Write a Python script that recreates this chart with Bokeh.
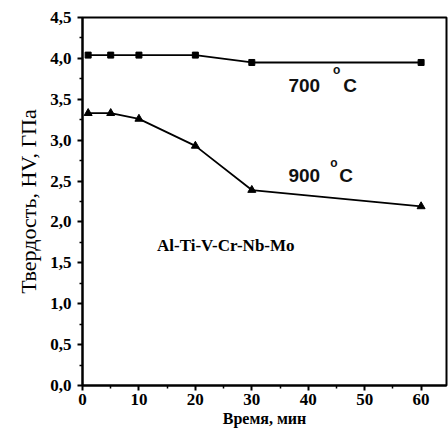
from bokeh.plotting import figure
from bokeh.models import Range1d, FixedTicker, Label, Title
from bokeh.embed import file_html
from bokeh.resources import INLINE

# data
time_min = [1, 5, 10, 20, 30, 60]
hv_700 = [4.04, 4.04, 4.04, 4.04, 3.95, 3.95]
hv_900 = [3.33, 3.33, 3.26, 2.93, 2.39, 2.19]
x_ticks = [0, 10, 20, 30, 40, 50, 60]
y_ticks = [0.0, 0.5, 1.0, 1.5, 2.0, 2.5, 3.0, 3.5, 4.0, 4.5]
y_tick_labels = ["0,0", "0,5", "1,0", "1,5", "2,0", "2,5", "3,0", "3,5", "4,0", "4,5"]
x_title = "Время, мин"
y_title = "Твердость, HV, ГПа"
alloy = "Al-Ti-V-Cr-Nb-Mo"

SERIF = "Liberation Serif"
SANS = "Liberation Sans"

p = figure(width=448, height=434, output_backend="svg", toolbar_location=None,
           x_range=Range1d(0, 64.5), y_range=Range1d(0, 4.5),
           min_border_left=82, min_border_right=2, min_border_top=17, min_border_bottom=49)
p.grid.visible = False
p.outline_line_color = "black"
p.outline_line_width = 2
p.background_fill_color = "white"
p.border_fill_color = "white"

for ax in (p.xaxis[0], p.yaxis[0]):
    ax.axis_line_width = 2
    ax.axis_line_color = "black"
    ax.major_tick_line_width = 2
    ax.minor_tick_line_width = 1.5
    ax.major_tick_in = 0
    ax.major_tick_out = 5
    ax.minor_tick_in = 0
    ax.minor_tick_out = 3
    ax.major_label_text_font = SERIF
    ax.major_label_text_font_style = "bold"
    ax.major_label_text_font_size = "17px"
    ax.major_label_text_color = "black"
    ax.axis_label_text_font = SERIF
    ax.axis_label_text_color = "black"

p.xaxis.ticker = FixedTicker(ticks=x_ticks, minor_ticks=[v + 5 for v in x_ticks])
p.yaxis.ticker = FixedTicker(ticks=y_ticks, minor_ticks=[v + 0.25 for v in y_ticks[:-1]])
p.yaxis.major_label_overrides = {v: s for v, s in zip(y_ticks, y_tick_labels)}
p.xaxis.major_label_standoff = 3
p.yaxis.major_label_standoff = 6

p.xaxis.axis_label = x_title
p.xaxis.axis_label_text_font_size = "16px"
p.xaxis.axis_label_text_font_style = "bold"
p.xaxis.axis_label_standoff = 2

# y title as a left-side title, shifted a little below the frame centre
p.add_layout(Title(text=y_title, align="center", offset=-16, standoff=14,
                   text_font=SERIF, text_font_size="22px", text_font_style="normal",
                   text_color="black"), "left")

p.line(time_min, hv_700, line_color="black", line_width=1.8)
p.scatter(time_min, hv_700, marker="square", size=6, color="black")
p.line(time_min, hv_900, line_color="black", line_width=1.8)
p.scatter(time_min, hv_900, marker="triangle", size=8, color="black")

labels = [
    ("700", 36.5, 3.67, "19px"),
    ("o", 44.4, 3.86, "12px"),
    ("C", 46.2, 3.67, "19px"),
    ("900", 36.5, 2.57, "19px"),
    ("o", 43.9, 2.72, "12px"),
    ("C", 45.5, 2.57, "19px"),
]
for t, x, y, fs in labels:
    p.add_layout(Label(x=x, y=y, text=t, text_font=SANS, text_font_style="bold",
                       text_font_size=fs, text_baseline="middle", text_align="left",
                       text_color="#111111"))

p.add_layout(Label(x=13.2, y=1.71, text=alloy, text_font=SERIF, text_font_style="bold",
                   text_font_size="17px", text_baseline="middle", text_align="left",
                   text_color="black"))

open("out.html", "w").write(file_html(p, INLINE))
